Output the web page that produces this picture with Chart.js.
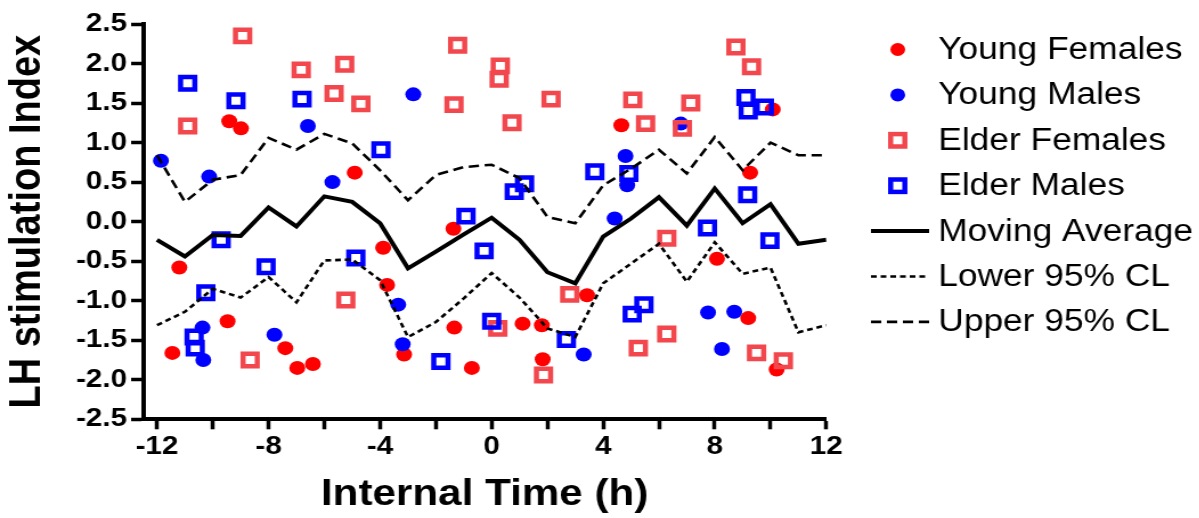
<!DOCTYPE html>
<html>
<head>
<meta charset="utf-8">
<script src="https://cdn.jsdelivr.net/npm/chart.js@4/dist/chart.umd.min.js"></script>
<style>
  html, body { margin: 0; padding: 0; background: #fff; overflow: hidden; }
  /* the source picture is stretched sideways, so draw it narrower and widen it */
  #chart { display: block; transform: scaleX(1.14); transform-origin: 0 0; }
</style>
</head>
<body>
<canvas id="chart" width="1052" height="518"></canvas>
<script>
// hours of the moving average and its confidence band
const hours = [-12, -11, -10, -9, -8, -7, -6, -5, -4, -3, -2, -1, 0, 1, 2, 3, 4, 5, 6, 7, 8, 9, 10, 11, 12];
const movingAvg = [-0.23, -0.44, -0.17, -0.18, 0.18, -0.06, 0.32, 0.25, -0.02, -0.59, -0.38, -0.16, 0.05,
  -0.23, -0.64, -0.78, -0.19, 0.04, 0.31, -0.05, 0.42, -0.02, 0.22, -0.28, -0.23];
const lowerCL = [-1.31, -1.14, -0.85, -0.96, -0.70, -1.02, -0.49, -0.48, -0.74, -1.46, -1.27, -0.97, -0.65,
  -0.96, -1.35, -1.46, -0.78, -0.53, -0.28, -0.76, -0.26, -0.66, -0.58, -1.40, -1.31];
const upperCL = [0.84, 0.25, 0.53, 0.59, 1.06, 0.91, 1.11, 0.99, 0.65, 0.27, 0.59, 0.69, 0.72,
  0.55, 0.06, -0.02, 0.46, 0.67, 0.91, 0.61, 1.07, 0.65, 1.00, 0.84, 0.84];

// [internal time, LH index]
const youngFemales = [[-11.45, -1.66], [-11.2, -0.58], [-9.47, -1.26], [-9.41, 1.27], [-8.99, 1.18],
  [-7.4, -1.6], [-6.97, -1.85], [-6.41, -1.8], [-4.91, 0.62], [-3.89, -0.33], [-3.75, -0.8],
  [-3.14, -1.68], [-1.37, -0.09], [-1.34, -1.34], [-0.71, -1.85], [1.11, -1.29], [1.8, -1.31],
  [1.83, -1.74], [3.42, -0.93], [4.65, 1.22], [8.08, -0.47], [9.2, -1.22], [9.27, 0.62],
  [10.08, 1.42], [10.22, -1.87]];
const youngMales = [[-11.86, 0.77], [-10.37, -1.34], [-10.34, -1.75], [-10.13, 0.57], [-7.79, -1.43],
  [-6.59, 1.21], [-5.71, 0.5], [-3.35, -1.05], [-3.19, -1.55], [-2.81, 1.61], [3.3, -1.68],
  [4.41, 0.04], [4.8, 0.83], [4.86, 0.46], [6.78, 1.24], [7.76, -1.15], [8.26, -1.61], [8.7, -1.14]];
const elderFemales = [[-10.9, 1.21], [-8.93, 2.35], [-8.66, -1.75], [-6.83, 1.92], [-5.65, 1.62],
  [-5.27, 1.99], [-5.23, -0.99], [-4.69, 1.49], [-1.35, 1.48], [-1.22, 2.23], [0.22, -1.35],
  [0.27, 1.8], [0.31, 1.97], [0.73, 1.25], [1.86, -1.94], [2.13, 1.55], [2.8, -0.92], [5.06, 1.54],
  [5.26, -1.6], [5.52, 1.24], [6.28, -0.21], [6.28, -1.42], [6.84, 1.18], [7.14, 1.5], [8.76, 2.21],
  [9.32, 1.96], [9.5, -1.66], [10.46, -1.76]];
const elderMales = [[-10.9, 1.75], [-10.67, -1.46], [-10.63, -1.6], [-10.25, -0.9], [-9.7, -0.23],
  [-9.17, 1.53], [-8.09, -0.57], [-6.8, 1.55], [-4.87, -0.46], [-3.97, 0.91], [-1.82, -1.77],
  [-0.92, 0.07], [-0.27, -0.37], [0.0, -1.26], [0.81, 0.38], [1.18, 0.48], [2.68, -1.49], [3.7, 0.63],
  [4.92, 0.61], [5.04, -1.17], [5.46, -1.05], [7.74, -0.08], [9.12, 1.57], [9.18, 0.34], [9.2, 1.4],
  [9.78, 1.45], [9.98, -0.24]];

const xTicks = [-12, -10, -8, -6, -4, -2, 0, 2, 4, 6, 8, 10, 12];
const xTickLabels = ['-12', '', '-8', '', '-4', '', '0', '', '4', '', '8', '', '12'];
const yTicks = [-2.5, -2, -1.5, -1, -0.5, 0, 0.5, 1, 1.5, 2, 2.5];
const yTickLabels = ['-2.5', '-2.0', '-1.5', '-1.0', '-0.5', '0.0', '0.5', '1.0', '1.5', '2.0', '2.5'];

const FONT = '"Liberation Sans", Arial, sans-serif';

function pts(list) {
  return list.map(p => ({ x: p[0], y: p[1] }));
}
function curve(values) {
  return hours.map((h, i) => ({ x: h, y: values[i] }));
}

// legend drawn at the right, one row per dataset
const sideLegend = {
  id: 'sideLegend',
  afterDraw(chart) {
    const ctx = chart.ctx;
    chart.data.datasets.forEach((ds, i) => {
      const y = 49.5 + i * 45.4;
      ctx.save();
      if (ds.showLine) {
        ctx.strokeStyle = ds.borderColor;
        ctx.lineWidth = ds.borderWidth;
        ctx.setLineDash(ds.borderDash || []);
        ctx.beginPath();
        ctx.moveTo(764, y);
        ctx.lineTo(815, y);
        ctx.stroke();
      } else if (ds.pointStyle === 'rect') {
        ctx.strokeStyle = ds.pointBorderColor;
        ctx.lineWidth = ds.pointBorderWidth;
        ctx.strokeRect(787.5 - 6.2, y - 6.2, 12.4, 12.4);
      } else {
        ctx.fillStyle = ds.pointBackgroundColor;
        ctx.beginPath();
        ctx.arc(787.5, y, 6.5, 0, Math.PI * 2);
        ctx.fill();
      }
      ctx.restore();
      ctx.save();
      ctx.font = '31px ' + FONT;
      ctx.fillStyle = '#000';
      ctx.textBaseline = 'middle';
      ctx.fillText(ds.label, 823, y + 1);
      ctx.restore();
    });
  }
};

const tickFont = { family: FONT, size: 26, weight: 'bold' };

new Chart(document.getElementById('chart'), {
  type: 'scatter',
  data: {
    datasets: [
      { label: 'Young Females', data: pts(youngFemales), pointStyle: 'circle', pointRadius: 7,
        pointBackgroundColor: '#ff0000', pointBorderWidth: 0, order: 5 },
      { label: 'Young Males', data: pts(youngMales), pointStyle: 'circle', pointRadius: 7,
        pointBackgroundColor: '#0000ff', pointBorderWidth: 0, order: 4 },
      { label: 'Elder Females', data: pts(elderFemales), pointStyle: 'rect', pointRadius: 8.8,
        pointBackgroundColor: 'rgba(0,0,0,0)', pointBorderColor: '#f2474d', pointBorderWidth: 4.5, order: 3 },
      { label: 'Elder Males', data: pts(elderMales), pointStyle: 'rect', pointRadius: 8.8,
        pointBackgroundColor: 'rgba(0,0,0,0)', pointBorderColor: '#0000ff', pointBorderWidth: 4.5, order: 2 },
      { label: 'Moving Average', data: curve(movingAvg), showLine: true, pointRadius: 0,
        borderColor: '#000', borderWidth: 4, order: 1 },
      { label: 'Lower 95% CL', data: curve(lowerCL), showLine: true, pointRadius: 0,
        borderColor: '#000', borderWidth: 2.6, borderDash: [5, 3.5], order: 1 },
      { label: 'Upper 95% CL', data: curve(upperCL), showLine: true, pointRadius: 0,
        borderColor: '#000', borderWidth: 2.6, borderDash: [9, 5], order: 1 }
    ]
  },
  options: {
    responsive: false,
    animation: false,
    events: [],
    layout: { padding: { top: 24, right: 327.2, bottom: 0, left: 0 } },
    plugins: { legend: { display: false }, tooltip: { enabled: false } },
    scales: {
      x: {
        type: 'linear',
        min: -12.5,
        max: 12,
        afterBuildTicks: s => { s.ticks = xTicks.map(v => ({ value: v })); },
        afterFit: s => { s.height = 98.7; },
        ticks: { autoSkip: false, maxRotation: 0, font: tickFont, color: '#000', padding: 2,
          callback: (v, i) => xTickLabels[i] },
        grid: { drawOnChartArea: false, tickLength: 10, tickWidth: 3.5, tickColor: '#000' },
        border: { width: 4, color: '#000' },
        title: { display: true, text: 'Internal Time (h)', color: '#000',
          font: { family: FONT, size: 37, weight: 'bold' }, padding: { top: 0, bottom: 1 } }
      },
      y: {
        type: 'linear',
        min: -2.5,
        max: 2.5,
        afterBuildTicks: s => { s.ticks = yTicks.map(v => ({ value: v })); },
        afterFit: s => { s.width = 125.5; },
        ticks: { font: tickFont, color: '#000', padding: 3.5,
          callback: (v, i) => yTickLabels[i] },
        grid: { drawOnChartArea: false, tickLength: 10.5, tickWidth: 3.5, tickColor: '#000' },
        border: { width: 4, color: '#000' },
        title: { display: true, text: 'LH stimulation Index', color: '#000',
          font: { family: FONT, size: 38, weight: 'bold' }, padding: { top: 2, bottom: 0 } }
      }
    }
  },
  plugins: [sideLegend]
});
</script>
</body>
</html>
